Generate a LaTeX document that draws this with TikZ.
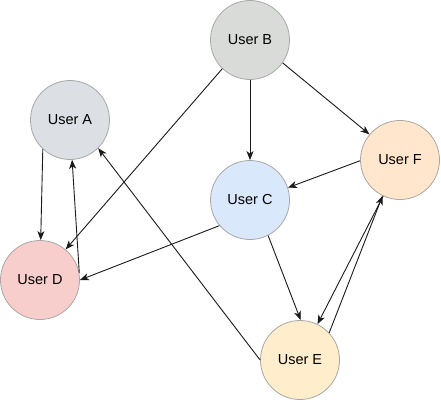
\documentclass[tikz,border=0pt]{standalone}
\usepackage{fontspec}
\setmainfont{Liberation Sans}
\usetikzlibrary{arrows.meta}
\definecolor{fillB}{HTML}{D9DBD9}
\definecolor{fillA}{HTML}{DCDFE3}
\definecolor{fillC}{HTML}{DAE8FC}
\definecolor{fillF}{HTML}{FFE6CC}
\definecolor{fillD}{HTML}{F8CECC}
\definecolor{fillE}{HTML}{FFEDCC}
\definecolor{rim}{HTML}{A8A8A8}
\definecolor{edgec}{HTML}{1A1A1A}
\tikzset{
  user/.style={circle, draw=rim, line width=0.8pt, minimum size=79pt, inner sep=0pt,
    font=\fontsize{14.5pt}{16pt}\selectfont},
  link/.style={draw=edgec, line width=0.9pt, -{Stealth[length=9pt,width=7pt,inset=2.5pt]}}
}
\begin{document}
\begin{tikzpicture}[x=1pt,y=-1pt]
\useasboundingbox (0,0) rectangle (441,401);
\node[user, fill=fillB] (B) at (250,40) {User B};
\node[user, fill=fillA] (A) at (70,120) {User A};
\node[user, fill=fillC] (C) at (250,200) {User C};
\node[user, fill=fillF] (F) at (400,160) {User F};
\node[user, fill=fillD] (D) at (40,280) {User D};
\node[user, fill=fillE] (E) at (300,360) {User E};

\draw[link] (A.227) -- (D.89);
\draw[link] (D.10) -- (A.273);
\draw[link] (B.226) -- (D.50);
\draw[link] (B.south) -- (C.north);
\draw[link] (B.325) -- (F.140);
\draw[link] (F.181) -- (C.18);
\draw[link] (C.220) -- (D.0);
\draw[link] (C.297) -- (E.89);
\draw[link] (E.180) -- (A.315);
\draw[link] (F.245) -- (E.64);
\draw[link] (E.43) -- (F.244);
\end{tikzpicture}
\end{document}
